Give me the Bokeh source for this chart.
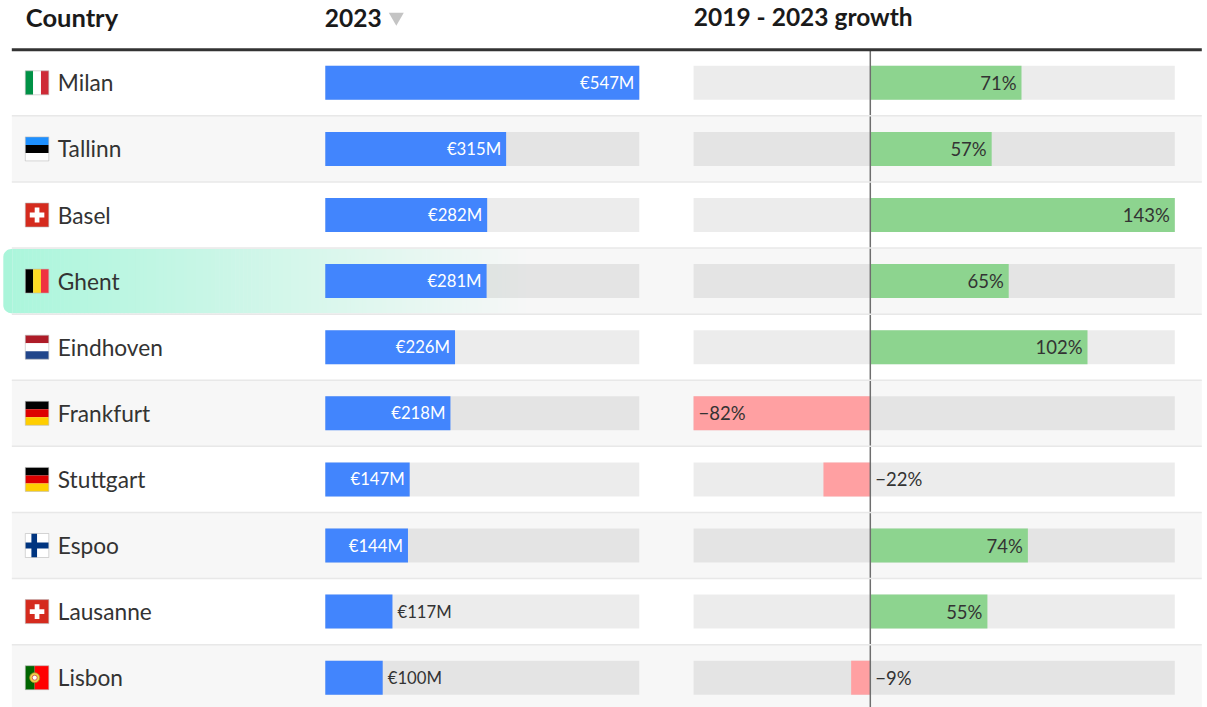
from bokeh.plotting import figure
from bokeh.models import Range1d
from bokeh.core.properties import value
from bokeh.embed import file_html
from bokeh.resources import INLINE
import math

cities = ["Milan", "Tallinn", "Basel", "Ghent", "Eindhoven", "Frankfurt", "Stuttgart", "Espoo", "Lausanne", "Lisbon"]
flags = ["it", "ee", "ch", "be", "nl", "de", "de", "fi", "ch", "pt"]
revenue = [547, 315, 282, 281, 226, 218, 147, 144, 117, 100]
growth = [71, 57, 143, 65, 102, -83, -22, 74, 55, -9]
growth_labels = ["71%", "57%", "143%", "65%", "102%", "\u221282%", "\u221222%", "74%", "55%", "\u22129%"]
headers = ["2023", "2019 - 2023 growth"]
first_header = "Country"

W, H = 1207, 707
FONT = "Lato"
ROW, ROW0 = 66.1, 83.0
REV_MAX = 547
GROW_MIN, GROW_MAX = -83, 143
DX, DY = 0.7, 0.7

rev_scale = (639.5 - 325.5) / REV_MAX
gr_scale = (1175 - 870.5) / GROW_MAX

p = figure(width=W, height=H, output_backend="svg", toolbar_location=None,
           x_range=Range1d(DX, W + DX),
           y_range=Range1d((H + DY - ROW0) / ROW, (DY - ROW0) / ROW),
           x_axis_location=None, y_axis_location=None,
           min_border=0, margin=0)
p.grid.visible = False
p.outline_line_color = None
p.background_fill_color = "white"
p.extra_x_ranges = {
    "rev": Range1d((DX - 325.5) / rev_scale, (W + DX - 325.5) / rev_scale),
    "gr": Range1d((DX - 870.5) / gr_scale, (W + DX - 870.5) / gr_scale),
}

n = len(cities)
rows = list(range(n))
BAR = 34 / ROW / 2

# row backgrounds
alt = [i for i in rows if i % 2 == 1]
p.quad(left=12, right=1202, top=[i - .5 for i in alt], bottom=[i + .5 for i in alt],
       fill_color="#f7f7f7", line_color=None)

# highlight of the Ghent row: rounded left end, then a fading gradient
hi = cities.index("Ghent")
hx0, hx1, r = 3.5, 530.0, 8.0
ht, hb = hi - .5 + 1 / ROW, hi + .5 - 1 / ROW
xs, ys = [], []
for a in range(0, 91, 10):
    t = math.radians(a)
    xs.append(hx0 + r - r * math.cos(t)); ys.append(ht + (r - r * math.sin(t)) / ROW)
xs += [hx0 + r + 1, hx0 + r + 1]; ys += [ht, hb]
for a in range(90, -1, -10):
    t = math.radians(a)
    xs.append(hx0 + r - r * math.cos(t)); ys.append(hb - (r - r * math.sin(t)) / ROW)
p.patch(xs, ys, fill_color="#aaf5da", line_color=None)
steps = 130
sx = [hx0 + r + 1 + (hx1 - hx0 - r - 1) * k / steps for k in range(steps + 1)]
start_col, end_col = (172, 246, 220), (247, 247, 247)
cols = []
for k in range(steps):
    f = k / (steps - 1)
    cols.append("#%02x%02x%02x" % tuple(round(a + (b - a) * f) for a, b in zip(start_col, end_col)))
p.quad(left=sx[:-1], right=[x + .6 for x in sx[1:]], top=ht, bottom=hb, fill_color=cols, line_color=None)

# tracks
p.quad(left=0, right=REV_MAX, top=[i - BAR for i in rows], bottom=[i + BAR for i in rows],
       x_range_name="rev", fill_color="#000000", fill_alpha=0.075, line_color=None)
p.quad(left=GROW_MIN, right=GROW_MAX, top=[i - BAR for i in rows], bottom=[i + BAR for i in rows],
       x_range_name="gr", fill_color="#000000", fill_alpha=0.075, line_color=None)

# revenue bars
p.quad(left=0, right=revenue, top=[i - BAR for i in rows], bottom=[i + BAR for i in rows],
       x_range_name="rev", fill_color="#4285fd", line_color=None)

# growth bars
gcol = ["#8dd48f" if g >= 0 else "#ffa0a2" for g in growth]
p.quad(left=[min(g, 0) for g in growth], right=[max(g, 0) for g in growth],
       top=[i - BAR for i in rows], bottom=[i + BAR for i in rows],
       x_range_name="gr", fill_color=gcol, line_color=None)

# zero line, one piece per row
p.segment(x0=0, x1=0, y0=[i - .5 for i in rows], y1=[i + .5 for i in rows], x_range_name="gr",
          line_color="#6e6e6e", line_width=1.5)

# separators and header rule
sep = [i + .5 for i in rows[:-1]]
p.segment(x0=12, x1=1202, y0=sep, y1=sep, line_color="#e8e8e8", line_width=1.5)
p.segment(x0=[12], x1=[1202], y0=[-.5], y1=[-.5], line_color="#333333", line_width=3)


# flags
def flag(kind, i):
    x0, x1 = 25.5, 49.0
    t, b = i - 12 / ROW, i + 12 / ROW
    fw, fh = x1 - x0, b - t
    rect = []
    def R(a, c, d, e, col):
        rect.append((x0 + a * fw, x0 + c * fw, t + d * fh, t + e * fh, col))
    if kind == "it":
        R(0, 1 / 3, 0, 1, "#009246"); R(1 / 3, 2 / 3, 0, 1, "#ffffff"); R(2 / 3, 1, 0, 1, "#ce2b37")
    elif kind == "be":
        R(0, 1 / 3, 0, 1, "#000000"); R(1 / 3, 2 / 3, 0, 1, "#fdda24"); R(2 / 3, 1, 0, 1, "#ef3340")
    elif kind == "ee":
        R(0, 1, 0, 1 / 3, "#1e90ff"); R(0, 1, 1 / 3, 2 / 3, "#000000"); R(0, 1, 2 / 3, 1, "#ffffff")
    elif kind == "nl":
        R(0, 1, 0, 1 / 3, "#ae1c28"); R(0, 1, 1 / 3, 2 / 3, "#ffffff"); R(0, 1, 2 / 3, 1, "#21468b")
    elif kind == "de":
        R(0, 1, 0, 1 / 3, "#000000"); R(0, 1, 1 / 3, 2 / 3, "#dd0000"); R(0, 1, 2 / 3, 1, "#ffce00")
    elif kind == "ch":
        R(0, 1, 0, 1, "#d52b1e"); R(.19, .81, .4, .6, "#ffffff"); R(.4, .6, .19, .81, "#ffffff")
    elif kind == "fi":
        R(0, 1, 0, 1, "#ffffff"); R(0, 1, .38, .62, "#003580"); R(.26, .5, 0, 1, "#003580")
    elif kind == "pt":
        R(0, .4, 0, 1, "#006600"); R(.4, 1, 0, 1, "#ff0000")
    for a, c, d, e, col in rect:
        p.quad(left=a, right=c, top=d, bottom=e, fill_color=col, line_color=None)
    if kind == "pt":
        p.scatter([x0 + .4 * fw], [i], size=10, marker="circle", fill_color="#f2d24b", line_color="#a8842c", line_width=.8)
        p.scatter([x0 + .4 * fw], [i], size=5, marker="circle", fill_color="#ffffff", line_color="#c44", line_width=.8)
    p.quad(left=x0, right=x1, top=t, bottom=b, fill_color=None, line_color="#b8b8b8", line_width=.6)


for i, k in enumerate(flags):
    flag(k, i)

# city names
p.text(x=58, y=rows, text=cities, text_font=value(FONT), text_font_size="22.7px", text_color="#333333",
       text_baseline="middle", text_align="left")

# headers
p.text(x=[26], y=[-1.0], text=[first_header], text_font=value(FONT), text_font_style="bold",
       text_font_size="25.5px", text_color="#1a1a1a", text_baseline="middle", text_align="left")
p.text(x=[325, 694], y=[-1.0 + 1 / ROW, -1.0], text=headers, text_font=value(FONT), text_font_style="bold",
       text_font_size="24.5px", text_color="#1a1a1a", text_baseline="middle", text_align="left")
p.scatter([396.5], [-1 + 0.5 / ROW], marker="inverted_triangle", size=15, fill_color="#c4c4c4", line_color=None)

# revenue labels
INSIDE_MIN = 130
LAB = "16.7px"
LAB2 = "18.5px"
lab = [f"\u20ac{v}M" for v in revenue]
ins = [i for i in rows if revenue[i] >= INSIDE_MIN]
out = [i for i in rows if revenue[i] < INSIDE_MIN]
p.text(x=[revenue[i] for i in ins], y=ins, text=[lab[i] for i in ins], x_range_name="rev", x_offset=-5,
       text_font=value(FONT), text_font_size=LAB, text_color="#ffffff", text_baseline="middle", text_align="right")
p.text(x=[revenue[i] for i in out], y=out, text=[lab[i] for i in out], x_range_name="rev", x_offset=5,
       text_font=value(FONT), text_font_size=LAB, text_color="#333333", text_baseline="middle", text_align="left")

# growth labels
pos = [i for i in rows if growth[i] >= 0]
big = [i for i in rows if growth[i] < -50]
small = [i for i in rows if -50 <= growth[i] < 0]
p.text(x=[growth[i] for i in pos], y=pos, text=[growth_labels[i] for i in pos], x_range_name="gr", x_offset=-5,
       text_font=value(FONT), text_font_size=LAB2, text_color="#333333", text_baseline="middle", text_align="right")
p.text(x=[growth[i] for i in big], y=big, text=[growth_labels[i] for i in big], x_range_name="gr", x_offset=5,
       text_font=value(FONT), text_font_size=LAB2, text_color="#333333", text_baseline="middle", text_align="left")
p.text(x=[0 for i in small], y=small, text=[growth_labels[i] for i in small], x_range_name="gr", x_offset=5,
       text_font=value(FONT), text_font_size=LAB2, text_color="#333333", text_baseline="middle", text_align="left")

open("out.html", "w").write(file_html(p, INLINE))
